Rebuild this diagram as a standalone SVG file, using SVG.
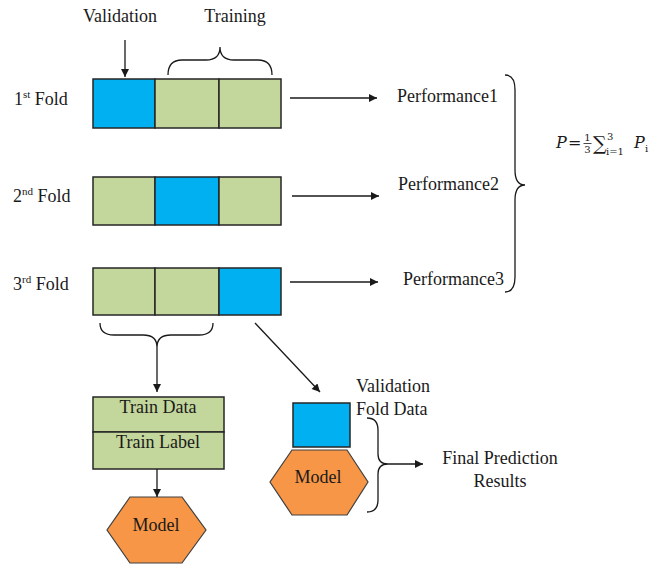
<svg xmlns="http://www.w3.org/2000/svg" width="650" height="565" viewBox="0 0 650 565">
<style>
text{font-family:"Liberation Serif","Times New Roman",serif;font-size:18px;fill:#1a1a1a}
.mid{text-anchor:middle}
.blue{fill:#00B0F0;stroke:#262626;stroke-width:1.5}
.green{fill:#C3D69B;stroke:#262626;stroke-width:1.5}
.orange{fill:#F79646;stroke:#404040;stroke-width:1.2}
.ln{fill:none;stroke:#1a1a1a;stroke-width:1.3}
.arr{fill:none;stroke:#1a1a1a;stroke-width:1.3;marker-end:url(#ah)}
text.m{font-family:"DejaVu Serif","Liberation Serif",serif;font-size:16px}
text.s{font-size:10px}
text.sig{font-size:19px}
text.it{font-style:italic}
</style>
<defs>
<marker id="ah" viewBox="0 0 10 10" refX="10" refY="5" markerWidth="9" markerHeight="8" markerUnits="userSpaceOnUse" orient="auto">
<path d="M0,0 L10,5 L0,10 z" fill="#1a1a1a"/>
</marker>
</defs>
<rect width="650" height="565" fill="#ffffff"/>

<g id="labels-top">
<text x="120" y="22" class="mid">Validation</text>
<text x="235" y="22" class="mid">Training</text>
</g>

<g id="fold1">
<text x="14" y="105">1<tspan font-size="11" dy="-7">st</tspan><tspan dy="7"> Fold</tspan></text>
<rect class="blue" x="93" y="79" width="62" height="49"/>
<rect class="green" x="155" y="79" width="64" height="49"/>
<rect class="green" x="219" y="79" width="62" height="49"/>
</g>
<g id="fold2">
<text x="13" y="202">2<tspan font-size="11" dy="-7">nd</tspan><tspan dy="7"> Fold</tspan></text>
<rect class="green" x="93" y="177" width="62" height="48"/>
<rect class="blue" x="155" y="177" width="64" height="48"/>
<rect class="green" x="219" y="177" width="62" height="48"/>
</g>
<g id="fold3">
<text x="13" y="290">3<tspan font-size="11" dy="-7">rd</tspan><tspan dy="7"> Fold</tspan></text>
<rect class="green" x="93" y="268" width="62" height="47"/>
<rect class="green" x="155" y="268" width="64" height="47"/>
<rect class="blue" x="219" y="268" width="62" height="47"/>
</g>

<g id="performance">
<text x="397" y="102">Performance1</text>
<text x="398" y="190">Performance2</text>
<text x="403" y="285">Performance3</text>
</g>

<g id="formula">
<text x="556" y="148" class="m it">P</text>
<text x="568" y="148" class="m">=</text>
<text x="587.5" y="141" class="m s mid">1</text>
<line x1="583.5" y1="143.5" x2="591.5" y2="143.5" stroke="#1a1a1a" stroke-width="0.8"/>
<text x="587.5" y="153" class="m s mid">3</text>
<text x="593" y="150" class="m sig">∑</text>
<text x="607" y="140" class="m s">3</text>
<text x="606" y="155" class="m s">i=1</text>
<text x="634" y="148" class="m it">P</text>
<text x="645" y="152" class="m s">i</text>
</g>

<g id="train-box">
<rect class="green" x="93" y="397" width="131" height="35"/>
<rect class="green" x="93" y="432" width="131" height="37"/>
<text x="158" y="413" class="mid">Train Data</text>
<text x="158" y="448" class="mid">Train Label</text>
</g>

<g id="model-left">
<polygon class="orange" points="130,497 182,497 206,530 182,563 130,563 107,530"/>
<text x="156" y="531" class="mid">Model</text>
</g>

<g id="validation-fold">
<rect class="blue" x="293" y="403" width="57" height="44"/>
<text x="356" y="392">Validation</text>
<text x="356" y="415">Fold Data</text>
</g>

<g id="model-right">
<polygon class="orange" points="292,450 347,450 368,482 347,515 292,515 270,482"/>
<text x="318" y="483" class="mid">Model</text>
</g>

<g id="final">
<text x="500" y="464" class="mid">Final Prediction</text>
<text x="500" y="487" class="mid">Results</text>
</g>

<g id="connectors">
<line class="arr" x1="125" y1="40" x2="125" y2="77"/>
<path class="ln" d="M168,75 Q168,60 182,60 L206,60 Q220,60 220,47 Q220,60 234,60 L258,60 Q272,60 272,75"/>
<line class="arr" x1="290" y1="98" x2="377" y2="98"/>
<line class="arr" x1="292" y1="196" x2="379" y2="196"/>
<line class="arr" x1="290" y1="282" x2="378" y2="282"/>
<path class="ln" d="M505,75 Q515,75 515,90 L515,170 Q515,185 525,185 Q515,185 515,200 L515,277 Q515,292 505,292"/>
<path class="ln" d="M100,323 Q100,335 114,335 L143,335 Q157,335 157,347 Q157,335 171,335 L199,335 Q213,335 213,323"/>
<line class="arr" x1="157" y1="347" x2="157" y2="392"/>
<line class="arr" x1="157" y1="469" x2="157" y2="497"/>
<line class="arr" x1="255" y1="323" x2="320" y2="392"/>
<path class="ln" d="M367,418 Q378,418 378,430 L378,454 Q378,464 388,464 Q378,464 378,474 L378,500 Q378,512 367,512"/>
<line class="arr" x1="388" y1="464" x2="423" y2="464"/>
</g>
</svg>
